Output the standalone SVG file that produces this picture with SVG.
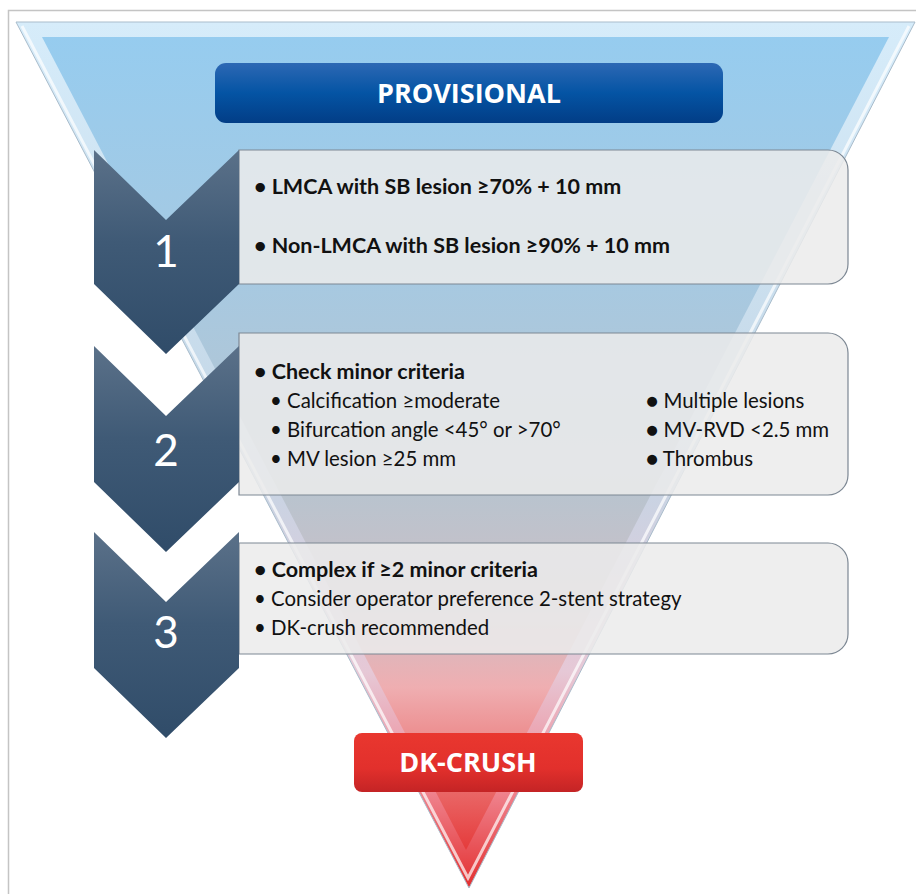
<svg xmlns="http://www.w3.org/2000/svg" width="916" height="894" viewBox="0 0 916 894">
  <defs>
    <linearGradient id="triFill" gradientUnits="userSpaceOnUse" x1="0" y1="37" x2="0" y2="850">
      <stop offset="0" stop-color="#96ccef"/>
      <stop offset="0.3" stop-color="#a7c9e1"/>
      <stop offset="0.55" stop-color="#b7c4cf"/>
      <stop offset="0.7" stop-color="#cdbfc6"/>
      <stop offset="0.8" stop-color="#efaeb1"/>
      <stop offset="0.9" stop-color="#eb7878"/>
      <stop offset="1" stop-color="#e53b3b"/>
    </linearGradient>
    <linearGradient id="bevelFill" gradientUnits="userSpaceOnUse" x1="0" y1="22" x2="0" y2="888">
      <stop offset="0" stop-color="#d6ecfa"/>
      <stop offset="0.5" stop-color="#c3d6e6"/>
      <stop offset="0.75" stop-color="#e6c8d6"/>
      <stop offset="0.88" stop-color="#f08a96"/>
      <stop offset="1" stop-color="#e32f2f"/>
    </linearGradient>
    <linearGradient id="blueBtn" x1="0" y1="0" x2="0" y2="1">
      <stop offset="0" stop-color="#2d68b4"/>
      <stop offset="0.5" stop-color="#0454a4"/>
      <stop offset="1" stop-color="#023d86"/>
    </linearGradient>
    <linearGradient id="redBtn" x1="0" y1="0" x2="0" y2="1">
      <stop offset="0" stop-color="#e9372f"/>
      <stop offset="0.6" stop-color="#e2302c"/>
      <stop offset="1" stop-color="#c42425"/>
    </linearGradient>
    <linearGradient id="chev" x1="0" y1="0" x2="0" y2="1">
      <stop offset="0" stop-color="#5b7189"/>
      <stop offset="0.45" stop-color="#3f5a76"/>
      <stop offset="1" stop-color="#304c69"/>
    </linearGradient>
    <style>
      .box { fill: #ebebeb; fill-opacity: 0.86; stroke: #7c8793; stroke-width: 1.2; }
      .chev { fill: url(#chev); }
      .num { font-family: Lato, "Open Sans", sans-serif; font-size: 44px; fill: #ffffff; text-anchor: middle; }
      .t { font-family: Lato, "Open Sans", sans-serif; font-size: 20.4px; fill: #111111; }
      .b { font-weight: bold; font-size: 21.5px; }
      .btn { font-family: "Open Sans", Lato, sans-serif; font-weight: bold; font-size: 27px; fill: #ffffff; text-anchor: middle; }
    </style>
  </defs>

  <rect x="8.5" y="10.5" width="1000" height="1000" fill="#ffffff" stroke="#c4c4c4" stroke-width="1.5"/>

  <g id="funnel">
    <polygon points="16,22 915,22 469,888" fill="url(#bevelFill)" stroke="#a9bccb" stroke-width="1"/>
    <polygon points="42,37 889,37 466,850" fill="url(#triFill)"/>
    <polyline points="22,26 468,878 909,26" fill="none" stroke="#ffffff" stroke-opacity="0.7" stroke-width="3"/>
  </g>

  <g id="provisional">
    <rect x="215" y="63" width="508" height="60" rx="11" fill="url(#blueBtn)"/>
    <text class="btn" x="469" y="103">PROVISIONAL</text>
  </g>

  <g id="step1">
    <path class="box" d="M239,150 H828 A20,20 0 0 1 848,170 V264 A20,20 0 0 1 828,284 H239 Z"/>
    <polygon class="chev" points="94,150 166,220 239,150 239,284 166,354 94,284"/>
    <text class="num" x="166" y="267">1</text>
    <text class="t b" x="254" y="194">• LMCA with SB lesion ≥70% + 10 mm</text>
    <text class="t b" x="254" y="253">• Non-LMCA with SB lesion ≥90% + 10 mm</text>
  </g>

  <g id="step2">
    <path class="box" d="M239,333 H828 A20,20 0 0 1 848,353 V475 A20,20 0 0 1 828,495 H239 Z"/>
    <polygon class="chev" points="94,346 166,416 239,346 239,482 166,552 94,482"/>
    <text class="num" x="166" y="466">2</text>
    <text class="t b" x="254" y="379">• Check minor criteria</text>
    <text class="t" x="270" y="408">• Calcification ≥moderate</text>
    <text class="t" x="270" y="437">• Bifurcation angle &lt;45° or &gt;70°</text>
    <text class="t" x="270" y="466">• MV lesion ≥25 mm</text>
    <text class="t" x="646" y="408">● Multiple lesions</text>
    <text class="t" x="646" y="437">● MV-RVD &lt;2.5 mm</text>
    <text class="t" x="646" y="466">● Thrombus</text>
  </g>

  <g id="step3">
    <path class="box" d="M239,543 H828 A20,20 0 0 1 848,563 V634 A20,20 0 0 1 828,654 H239 Z"/>
    <polygon class="chev" points="94,532 166,602 239,532 239,668 166,738 94,668"/>
    <text class="num" x="166" y="648">3</text>
    <text class="t b" x="254" y="577">• Complex if ≥2 minor criteria</text>
    <text class="t" x="254" y="606">• Consider operator preference 2-stent strategy</text>
    <text class="t" x="254" y="635">• DK-crush recommended</text>
  </g>

  <g id="dkcrush">
    <rect x="354" y="733" width="229" height="59" rx="8" fill="url(#redBtn)"/>
    <text class="btn" x="468" y="772">DK-CRUSH</text>
  </g>

  <g id="connectors"/>
</svg>
